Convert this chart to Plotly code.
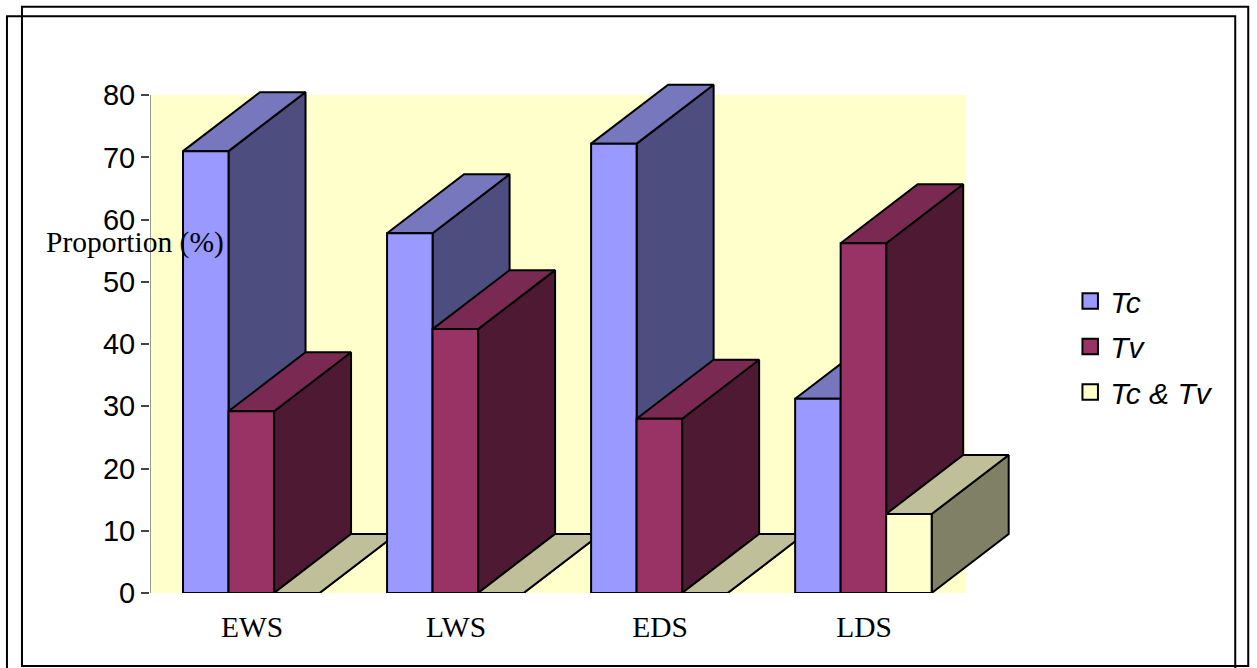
import plotly.graph_objects as go

# Seasons on the category axis and the proportion (%) of each tiller class
seasons = ["EWS", "LWS", "EDS", "LDS"]
tc_values = [71.0, 57.8, 72.2, 31.2]
tv_values = [29.2, 42.4, 28.0, 56.2]
both_values = [0.0, 0.0, 0.0, 12.7]
y_ticks = [0, 10, 20, 30, 40, 50, 60, 70, 80]

# Page geometry in pixels
WIDTH, HEIGHT = 1257, 668
LEFT, BASE = 150, 593
BAND_PX = 204
UNIT_PX = 6.225
X_MAX, Y_MAX = 4.45, 85

# Bar geometry in axis units; the depth gives the oblique 3-D look
BAR_W = 45.5 / BAND_PX
BAR_START = 33 / BAND_PX
DEPTH_X = 77 / BAND_PX
DEPTH_Y = 59 / UNIT_PX

series = [
    ("Tc", tc_values, "#9999FF", "#7777BD", "#4D4D80"),
    ("Tv", tv_values, "#993366", "#7A2952", "#4D1933"),
    ("Tc & Tv", both_values, "#FFFFCC", "#BFBF99", "#808066"),
]

plot_w = X_MAX * BAND_PX
plot_h = Y_MAX * UNIT_PX
fig = go.Figure()


def face(xs, ys, color):
    fig.add_trace(go.Scatter(
        x=xs + xs[:1], y=ys + ys[:1], mode="lines", fill="toself",
        fillcolor=color, line=dict(color="#000000", width=2),
        hoverinfo="skip", showlegend=False,
    ))


# Painter's order: left to right, each bar as side, top, then front
for g in range(len(seasons)):
    for s, (_, values, front, top, side) in enumerate(series):
        v = values[g]
        x0 = g + BAR_START + s * BAR_W
        x1 = x0 + BAR_W
        face([x1, x1 + DEPTH_X, x1 + DEPTH_X, x1],
             [0, DEPTH_Y, v + DEPTH_Y, v], side)
        face([x0, x0 + DEPTH_X, x1 + DEPTH_X, x1],
             [v, v + DEPTH_Y, v + DEPTH_Y, v], top)
        face([x0, x1, x1, x0], [0, 0, v, v], front)

# Legend entries
for name, _, front, _, _ in series:
    fig.add_trace(go.Scatter(
        x=[None], y=[None], mode="markers", name=f"<i>{name}</i>",
        legendgroup=name,
        marker=dict(symbol="square", size=15.5, color=front,
                    line=dict(color="#000000", width=2)),
    ))


def px(x):
    return (x - LEFT) / plot_w


def py(y):
    return (BASE - y) / plot_h


def frame(x0, y0, x1, y1, width):
    return dict(type="rect", xref="paper", yref="paper", layer="above",
                x0=px(x0), x1=px(x1), y0=py(y0), y1=py(y1),
                line=dict(color="#000000", width=width),
                fillcolor="rgba(0,0,0,0)")


fig.update_layout(
    width=WIDTH, height=HEIGHT, autosize=False,
    margin=dict(l=LEFT, r=WIDTH - LEFT - plot_w, t=BASE - plot_h, b=HEIGHT - BASE,
                pad=0),
    paper_bgcolor="#FFFFFF", plot_bgcolor="#FFFFFF",
    font=dict(family="Liberation Sans", color="#000000"),
    xaxis=dict(
        range=[0, X_MAX], showgrid=False, zeroline=False, showline=False,
        tickmode="array", tickvals=[g + 0.5 for g in range(len(seasons))],
        ticktext=seasons, ticks="outside", ticklen=8, tickwidth=0,
        tickcolor="rgba(0,0,0,0)",
        tickfont=dict(family="Liberation Serif", size=29.5),
    ),
    yaxis=dict(
        range=[0, Y_MAX], showgrid=False, zeroline=False, showline=False,
        tickmode="array", tickvals=y_ticks, ticks="outside", ticklen=8,
        tickwidth=1.5, tickcolor="#444444", ticklabelstandoff=0,
        tickfont=dict(family="Liberation Sans", size=29),
    ),
    shapes=[
        dict(type="rect", xref="x", yref="y", layer="below", x0=0, x1=4,
             y0=0, y1=80, fillcolor="#FFFFCC", line=dict(width=0)),
        dict(type="line", xref="x", yref="y", layer="below", x0=0, x1=0,
             y0=0, y1=80, line=dict(color="#777777", width=1.5)),
        frame(22, 6.5, 1248, 666, 2),
        frame(7, 16, 1235, 675, 2),
    ],
    legend=dict(
        x=px(1070), y=py(275), xanchor="left", yanchor="top",
        font=dict(family="Liberation Sans", size=30),
        tracegroupgap=3.5, bgcolor="rgba(0,0,0,0)", borderwidth=0,
        itemclick=False, itemdoubleclick=False,
    ),
    annotations=[dict(
        text="Proportion (%)", xref="paper", yref="paper",
        x=px(135), y=py(242), xanchor="center", yanchor="middle",
        showarrow=False, font=dict(family="Liberation Serif", size=29.5),
    )],
)

fig.write_html("out.html")
